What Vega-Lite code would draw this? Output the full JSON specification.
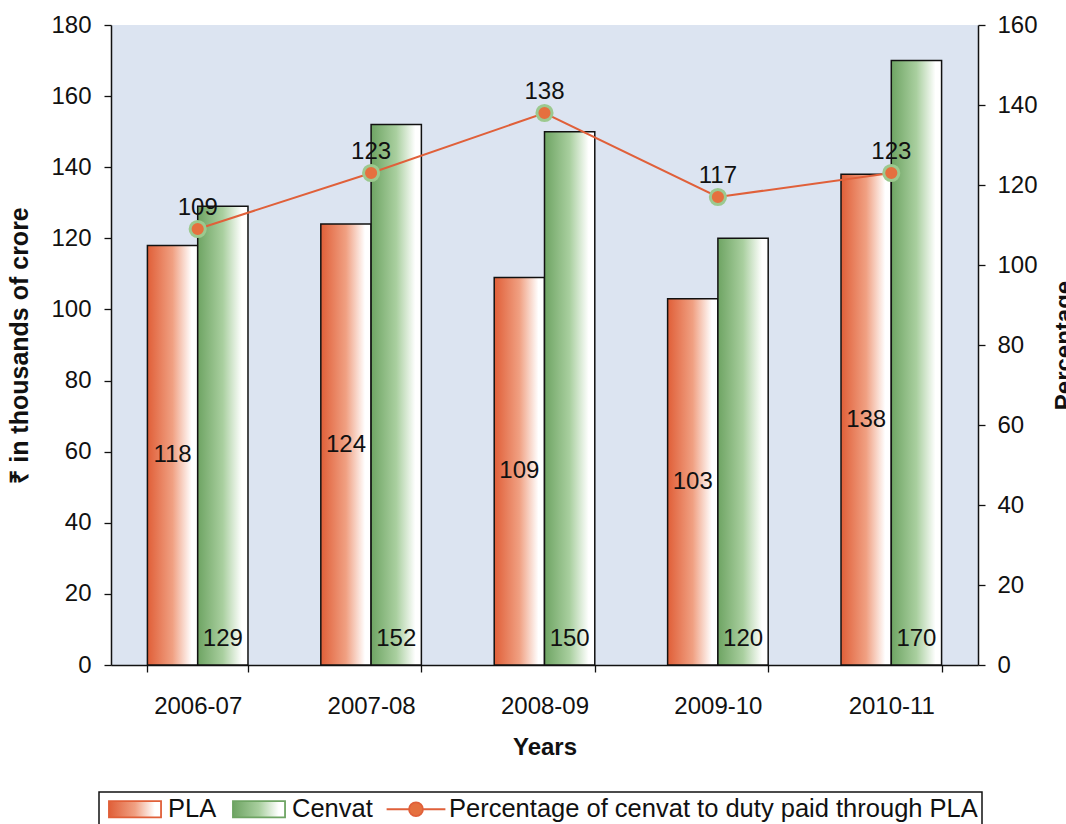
{
  "$schema": "https://vega.github.io/schema/vega-lite/v6.json",
  "width": 867,
  "height": 640,
  "autosize": {"type": "none"},
  "padding": {"left": 111, "top": 25, "right": 88, "bottom": 159},
  "background": "#ffffff",
  "config": {
    "font": "Liberation Sans, Arial, sans-serif",
    "view": {"fill": "#dce4f1", "stroke": null},
    "axis": {
      "grid": false,
      "domainColor": "#111111",
      "domainWidth": 1.5,
      "tickColor": "#111111",
      "tickWidth": 1.3,
      "tickSize": 7,
      "labelFontSize": 24,
      "labelColor": "#111111",
      "titleFontSize": 24,
      "titleFontWeight": "bold",
      "titleColor": "#111111"
    },
    "text": {"fontSize": 24, "color": "#111111"}
  },
  "datasets": {
    "bars": [
      {"year": "2006-07", "series": "PLA", "value": 118},
      {"year": "2006-07", "series": "Cenvat", "value": 129},
      {"year": "2007-08", "series": "PLA", "value": 124},
      {"year": "2007-08", "series": "Cenvat", "value": 152},
      {"year": "2008-09", "series": "PLA", "value": 109},
      {"year": "2008-09", "series": "Cenvat", "value": 150},
      {"year": "2009-10", "series": "PLA", "value": 103},
      {"year": "2009-10", "series": "Cenvat", "value": 120},
      {"year": "2010-11", "series": "PLA", "value": 138},
      {"year": "2010-11", "series": "Cenvat", "value": 170}
    ],
    "pct": [
      {"year": "2006-07", "pct": 109},
      {"year": "2007-08", "pct": 123},
      {"year": "2008-09", "pct": 138},
      {"year": "2009-10", "pct": 117},
      {"year": "2010-11", "pct": 123}
    ]
  },
  "layer": [
    {
      "data": {"name": "bars"},
      "mark": {"type": "bar", "stroke": "#111111", "strokeWidth": 1.5},
      "encoding": {
        "x": {
          "field": "year",
          "type": "nominal",
          "scale": {"paddingInner": 0.42, "paddingOuter": 0.21},
          "axis": {
            "title": "Years",
            "labelAngle": 0,
            "tickBand": "extent",
            "labelPadding": 22,
            "titlePadding": 17
          }
        },
        "xOffset": {
          "field": "series",
          "type": "nominal",
          "scale": {"domain": ["PLA", "Cenvat"], "paddingInner": 0, "paddingOuter": 0}
        },
        "y": {
          "field": "value",
          "type": "quantitative",
          "scale": {"domain": [0, 180]},
          "axis": {
            "orient": "left",
            "title": "₹ in thousands of crore",
            "titleFontSize": 25,
            "values": [0, 20, 40, 60, 80, 100, 120, 140, 160, 180],
            "labelPadding": 13,
            "titlePadding": 18
          }
        },
        "fill": {
          "condition": {
            "test": "datum.series === 'PLA'",
            "value": {
              "gradient": "linear",
              "x1": 0, "y1": 0, "x2": 1, "y2": 0,
              "stops": [
                {"offset": 0, "color": "#e05f38"},
                {"offset": 0.5, "color": "#f0a082"},
                {"offset": 0.88, "color": "#ffffff"},
                {"offset": 1, "color": "#ffffff"}
              ]
            }
          },
          "value": {
            "gradient": "linear",
            "x1": 0, "y1": 0, "x2": 1, "y2": 0,
            "stops": [
              {"offset": 0, "color": "#6ea463"},
              {"offset": 0.5, "color": "#a9cf9f"},
              {"offset": 0.88, "color": "#ffffff"},
              {"offset": 1, "color": "#ffffff"}
            ]
          }
        }
      }
    },
    {
      "data": {"name": "bars"},
      "transform": [{"filter": "datum.series === 'PLA'"}],
      "mark": {"type": "text", "baseline": "middle"},
      "encoding": {
        "x": {"field": "year", "type": "nominal"},
        "xOffset": {"field": "series", "type": "nominal"},
        "y": {"field": "value", "type": "quantitative", "scale": {"domain": [0, 360]}, "axis": null},
        "text": {"field": "value", "type": "quantitative"}
      }
    },
    {
      "data": {"name": "bars"},
      "transform": [{"filter": "datum.series === 'Cenvat'"}],
      "mark": {"type": "text", "baseline": "alphabetic", "dy": -19},
      "encoding": {
        "x": {"field": "year", "type": "nominal"},
        "xOffset": {"field": "series", "type": "nominal"},
        "y": {"datum": 0, "type": "quantitative", "scale": {"domain": [0, 180]}, "axis": null},
        "text": {"field": "value", "type": "quantitative"}
      }
    },
    {
      "data": {"name": "pct"},
      "mark": {"type": "line", "strokeWidth": 2},
      "encoding": {
        "x": {"field": "year", "type": "nominal"},
        "y": {
          "field": "pct",
          "type": "quantitative",
          "scale": {"domain": [0, 160]},
          "axis": {
            "orient": "right",
            "title": "Percentage",
            "values": [0, 20, 40, 60, 80, 100, 120, 140, 160],
            "labelPadding": 12,
            "titleAngle": 270,
            "titleBaseline": "top",
            "titlePadding": 15
          }
        },
        "color": {
          "datum": "Percentage of cenvat to duty paid through PLA",
          "type": "nominal",
          "scale": {
            "domain": ["PLA", "Cenvat", "Percentage of cenvat to duty paid through PLA"],
            "range": ["#e05f38", "#6ea463", "#e0603a"]
          },
          "legend": {
            "title": null,
            "orient": "none",
            "legendX": -12,
            "legendY": 767,
            "direction": "horizontal",
            "strokeColor": "#111111",
            "padding": 4,
            "labelFontSize": 25.5,
            "labelColor": "#111111",
            "labelLimit": 700,
            "labelOffset": 20,
            "symbolOffset": 19,
            "columnPadding": 10,
            "symbolSize": 576,
            "symbolStrokeWidth": 1.5,
            "encode": {
              "legend": {"update": {"strokeWidth": {"value": 1.5}}},
              "symbols": {
                "update": {
                  "shape": {"signal": "datum.value === 'Percentage of cenvat to duty paid through PLA' ? 'M-2.45,0L-0.58,0M0.58,0L2.45,0M0.58,0A0.58,0.58,0,1,1,-0.58,0A0.58,0.58,0,1,1,0.58,0Z' : 'M-2.17,-0.67L2.17,-0.67L2.17,0.67L-2.17,0.67Z'"},
                  "fill": {"signal": "datum.value === 'PLA' ? {gradient: 'linear', x1: 0, y1: 0, x2: 1, y2: 0, stops: [{offset: 0, color: '#e05f38'}, {offset: 0.5, color: '#f0a082'}, {offset: 0.88, color: '#ffffff'}, {offset: 1, color: '#ffffff'}]} : datum.value === 'Cenvat' ? {gradient: 'linear', x1: 0, y1: 0, x2: 1, y2: 0, stops: [{offset: 0, color: '#6ea463'}, {offset: 0.5, color: '#a9cf9f'}, {offset: 0.88, color: '#ffffff'}, {offset: 1, color: '#ffffff'}]} : '#e5703f'"},
                  "stroke": {"signal": "datum.value === 'Percentage of cenvat to duty paid through PLA' ? '#e0603a' : '#111111'"},
                  "strokeWidth": {"value": 1.8},
                  "opacity": {"value": 1},
                  "fillOpacity": {"value": 1}
                }
              }
            }
          }
        }
      }
    },
    {
      "data": {"name": "pct"},
      "mark": {"type": "point", "filled": true, "fill": "#e5703f", "stroke": "#9cc98f", "strokeWidth": 3, "size": 230, "opacity": 1},
      "encoding": {
        "x": {"field": "year", "type": "nominal"},
        "y": {"field": "pct", "type": "quantitative", "scale": {"domain": [0, 160]}, "axis": null}
      }
    },
    {
      "data": {"name": "pct"},
      "mark": {"type": "text", "baseline": "alphabetic", "dy": -14},
      "encoding": {
        "x": {"field": "year", "type": "nominal"},
        "y": {"field": "pct", "type": "quantitative", "scale": {"domain": [0, 160]}, "axis": null},
        "text": {"field": "pct", "type": "quantitative"}
      }
    }
  ],
  "resolve": {"scale": {"y": "independent"}}
}
